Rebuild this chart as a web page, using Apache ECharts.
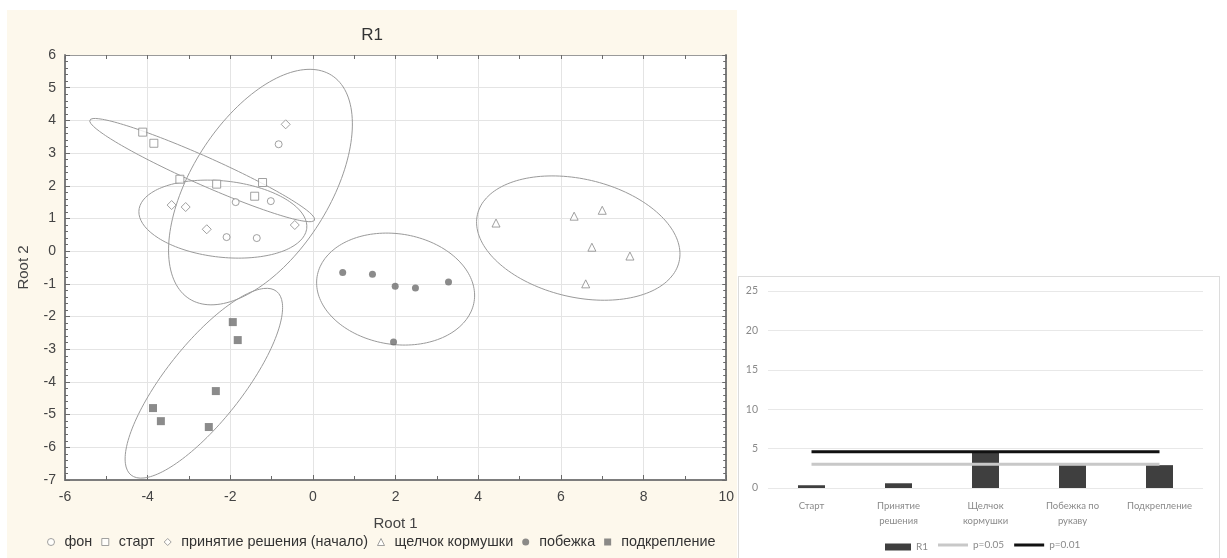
<!DOCTYPE html>
<html><head><meta charset="utf-8">
<script src="https://cdn.jsdelivr.net/npm/echarts@6/dist/echarts.min.js"></script>
<style>
html,body{margin:0;padding:0;background:#fff;width:1227px;height:558px;overflow:hidden;}
#left{position:absolute;left:7px;top:10px;width:730px;height:548px;background:#fdf8ec;}
#right{position:absolute;left:738px;top:276px;width:482px;height:290px;background:#fff;border:1px solid #dcdcdc;box-sizing:border-box;}
</style></head><body>
<div id="left"></div><div id="right"></div>
<script>
// ---- Left chart data (Root 1, Root 2) ----
const fon = [[-0.83,3.27],[-2.09,0.43],[-1.36,0.40],[-1.87,1.50],[-1.02,1.53]];
const start = [[-4.12,3.64],[-3.85,3.30],[-3.22,2.20],[-2.33,2.05],[-1.22,2.10],[-1.41,1.68]];
const decision = [[-0.66,3.88],[-3.42,1.41],[-3.08,1.35],[-2.57,0.67],[-0.44,0.80]];
const click = [[4.43,0.86],[6.32,1.07],[7.00,1.25],[6.75,0.12],[7.67,-0.15],[6.60,-1.00]];
const run = [[0.72,-0.65],[1.44,-0.71],[1.99,-1.07],[2.48,-1.13],[3.28,-0.94],[1.95,-2.78]];
const reinf = [[-1.94,-2.17],[-1.82,-2.72],[-2.35,-4.28],[-3.87,-4.80],[-3.68,-5.20],[-2.52,-5.38]];
// ellipses: centre x, centre y, conjugate semi-diameter U (x,y), V (x,y)
const ellStart = [-2.68, 2.48, 2.72, -1.53, 0.14, 0.39];
const ellDecision = [-2.18, 0.98, 2.03, -0.28, 0.10, 1.16];
const ellFon = [-1.27, 1.96, 1.72, 3.42, -1.41, 1.13];
const ellReinf = [-2.64, -4.04, 1.76, 2.81, -0.73, 0.73];
const ellRun = [2.00, -1.16, 1.90, -0.38, 0.21, 1.67];
const ellClick = [6.42, 0.40, 2.44, -0.72, 0.32, 1.76];
const legendNames = ['фон','старт','принятие решения (начало)','щелчок кормушки','побежка','подкрепление'];

// ---- Right chart data ----
const categories = ['Старт','Принятие\nрешения','Щелчок\nкормушки','Побежка по\nрукаву','Подкрепление'];
const r1 = [0.35, 0.6, 4.7, 2.9, 2.9];
const p05 = [3.0, 3.0, 3.0, 3.0, 3.0];
const p01 = [4.6, 4.6, 4.6, 4.6, 4.6];
const yTicks = [0,5,10,15,20,25];

function ellipsePts(e){
  const [cx,cy,ux,uy,vx,vy]=e; const pts=[];
  for(let i=0;i<=160;i++){const t=2*Math.PI*i/160;
    pts.push([cx+ux*Math.cos(t)+vx*Math.sin(t), cy+uy*Math.cos(t)+vy*Math.sin(t)]);}
  return pts;
}
const FF = 'Liberation Sans, Arial, sans-serif';
const hollow = {color:'#ffffff', borderColor:'#8a8a8a', borderWidth:1};
const filled = {color:'#6e6e6e', borderColor:'#6e6e6e', borderWidth:0};

const left = echarts.init(document.getElementById('left'));
const ellSeries = [ellStart,ellDecision,ellFon,ellReinf,ellRun,ellClick].map((e,i)=>({
  type:'line', name:'ell'+i, data:ellipsePts(e), showSymbol:false, symbol:'none', silent:true,
  lineStyle:{color:'#9a9a9a',width:1}, z:1, animation:false
}));
const scat = (name,data,symbol,size,style)=>({type:'scatter',name,data,symbol,symbolSize:size,itemStyle:style,z:3,animation:false});
const tickStyle = {color:'#6a6a6a'};
left.setOption({
  animation:false,
  title:{text:'R1',left:'center',top:12,textStyle:{fontFamily:FF,fontSize:17,fontWeight:'normal',color:'#333'}},
  grid:{left:58,top:45,width:662,height:425,show:true,backgroundColor:'#ffffff',borderWidth:0},
  xAxis:[
    {type:'value',min:-6,max:10,interval:2,position:'bottom',
      axisLine:{show:true,onZero:false,lineStyle:{color:'#7d7d7d',width:2}},
      axisTick:{show:true,inside:true,length:5,lineStyle:tickStyle},
      minorTick:{show:true,splitNumber:2,length:4,lineStyle:tickStyle},
      splitLine:{show:true,lineStyle:{color:'#e4e4e4',width:1}},
      axisLabel:{color:'#444',fontSize:14,fontFamily:FF,margin:10},
      name:'Root 1',nameLocation:'middle',nameGap:36,nameTextStyle:{fontFamily:FF,fontSize:15,color:'#444'}},
    {type:'value',min:-6,max:10,interval:2,position:'top',
      axisLine:{show:true,onZero:false,lineStyle:{color:'#9a9a9a',width:1}},
      axisTick:{show:true,inside:true,length:4,lineStyle:tickStyle},
      minorTick:{show:true,splitNumber:2,length:4,lineStyle:tickStyle},
      axisLabel:{show:false},splitLine:{show:false}}
  ],
  yAxis:[
    {type:'value',min:-7,max:6,interval:1,position:'left',
      axisLine:{show:true,onZero:false,lineStyle:{color:'#7d7d7d',width:2}},
      axisTick:{show:true,inside:true,length:5,lineStyle:tickStyle},
      minorTick:{show:true,splitNumber:5,length:3,lineStyle:tickStyle},
      splitLine:{show:true,lineStyle:{color:'#e4e4e4',width:1}},
      axisLabel:{color:'#444',fontSize:14,fontFamily:FF,margin:9},
      name:'Root 2',nameLocation:'middle',nameGap:34,nameTextStyle:{fontFamily:FF,fontSize:15,color:'#444'}},
    {type:'value',min:-7,max:6,interval:1,position:'right',
      axisLine:{show:true,onZero:false,lineStyle:{color:'#7d7d7d',width:2}},
      axisTick:{show:true,inside:true,length:4,lineStyle:tickStyle},
      minorTick:{show:true,splitNumber:5,length:3,lineStyle:tickStyle},
      axisLabel:{show:false},splitLine:{show:false}}
  ],
  legend:{bottom:4,left:35,itemWidth:7,itemHeight:7,itemGap:9,
    formatter:n=>'{t|'+n+'}',
    textStyle:{fontFamily:FF,fontSize:14.4,color:'#333',
      rich:{t:{fontFamily:FF,fontSize:14.4,color:'#333',padding:[0,0,0,5]}}},
    data:[
      {name:legendNames[0],icon:'circle',itemStyle:hollow},
      {name:legendNames[1],icon:'rect',itemStyle:hollow},
      {name:legendNames[2],icon:'diamond',itemStyle:hollow},
      {name:legendNames[3],icon:'triangle',itemStyle:hollow},
      {name:legendNames[4],icon:'circle',itemStyle:filled},
      {name:legendNames[5],icon:'rect',itemStyle:filled}
    ]},
  series: ellSeries.concat([
    scat(legendNames[0],fon,'circle',7,hollow),
    scat(legendNames[1],start,'rect',8,hollow),
    scat(legendNames[2],decision,'diamond',9,hollow),
    scat(legendNames[3],click,'triangle',8,hollow),
    scat(legendNames[4],run,'circle',7,filled),
    scat(legendNames[5],reinf,'rect',8,filled)
  ])
});

const right = echarts.init(document.getElementById('right'));
const RF = 'Lato, Open Sans, sans-serif';
const legText = {color:'#8a8a8a',fontSize:10,fontFamily:RF};
right.setOption({
  animation:false,
  grid:{left:29,top:14,width:435,height:197},
  xAxis:{type:'category',data:categories,
    axisLine:{show:false},axisTick:{show:false},
    axisLabel:{color:'#8a8a8a',fontSize:9.5,fontFamily:RF,margin:10,lineHeight:15,interval:0}},
  yAxis:{type:'value',min:0,max:25,interval:5,
    axisLine:{show:false},axisTick:{show:false},
    axisLabel:{color:'#8a8a8a',fontSize:10.5,fontFamily:RF,margin:10,
      formatter:v=>yTicks.includes(v)?String(v):''},
    splitLine:{lineStyle:{color:'#e8e8e8'}}},
  legend:[
    {bottom:8,left:141,itemWidth:26,itemHeight:7,textStyle:legText,
      data:[{name:'R1',icon:'rect'}]},
    {bottom:10,left:194,itemWidth:30,itemHeight:3,itemGap:10,textStyle:legText,
      data:[{name:'p=0.05',icon:'rect',itemStyle:{color:'#c8c8c8'}},{name:'p=0.01',icon:'rect',itemStyle:{color:'#111'}}]}
  ],
  series:[
    {type:'bar',name:'R1',data:r1,barWidth:27,itemStyle:{color:'#3f3f3f'},z:2},
    {type:'line',name:'p=0.05',data:p05,symbol:'none',lineStyle:{color:'#c8c8c8',width:3},itemStyle:{color:'#c8c8c8'},z:3},
    {type:'line',name:'p=0.01',data:p01,symbol:'none',lineStyle:{color:'#111',width:3},itemStyle:{color:'#111'},z:4}
  ]
});
</script></body></html>
